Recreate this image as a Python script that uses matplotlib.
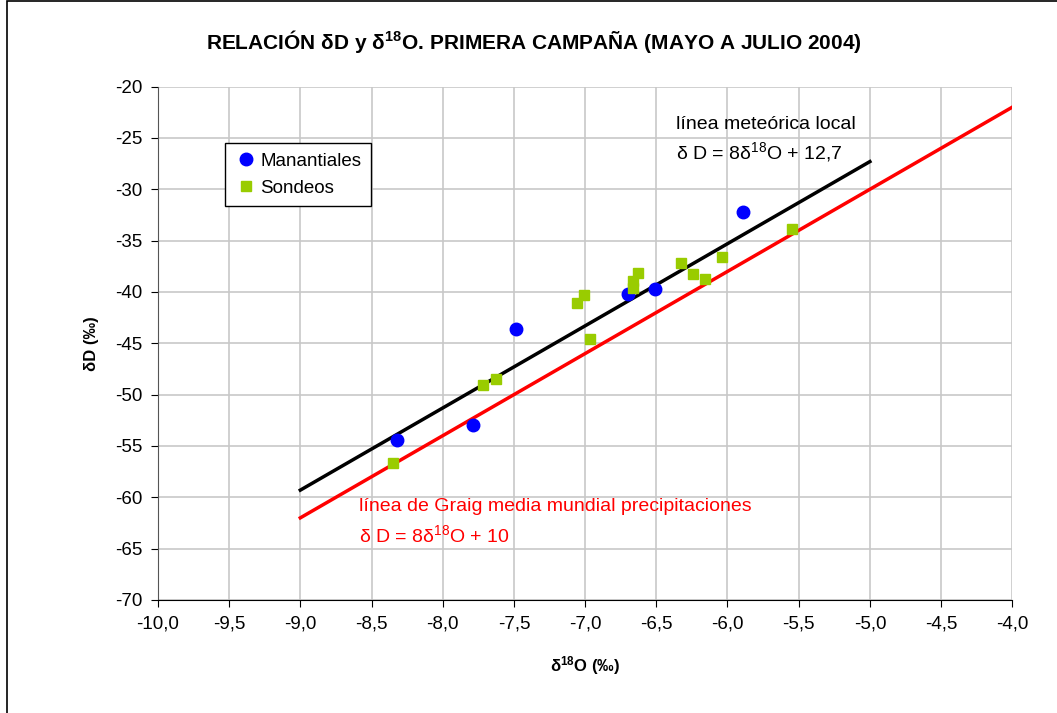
import numpy as np
import matplotlib
matplotlib.use("Agg")
import matplotlib.pyplot as plt
from matplotlib.ticker import FuncFormatter, MultipleLocator
from matplotlib.patches import Rectangle

plt.rcParams['font.family'] = ['Liberation Sans', 'DejaVu Sans']
plt.rcParams['mathtext.fontset'] = 'custom'
plt.rcParams['mathtext.rm'] = 'Liberation Sans'
plt.rcParams['mathtext.it'] = 'Liberation Sans:italic'
plt.rcParams['mathtext.bf'] = 'Liberation Sans:bold'

# manantiales (springs)
man_o18 = [-8.32, -7.79, -7.485, -6.70, -6.507, -5.89]
man_d = [-54.4, -53.0, -43.6, -40.2, -39.74, -32.24]

# sondeos (boreholes)
son_o18 = [-8.347, -7.72, -7.626, -7.059, -7.006, -6.966, -6.666, -6.666,
           -6.626, -6.327, -6.24, -6.156, -6.039, -5.549]
son_d = [-56.7, -49.06, -48.47, -41.1, -40.32, -44.6, -39.58, -38.93,
         -38.12, -37.21, -38.28, -38.7, -36.62, -33.84]

# line ranges
local_x = [-9.0, -5.0]
local_slope, local_icpt = 8.0, 12.7
craig_x = [-9.0, -4.0]
craig_slope, craig_icpt = 8.0, 10.0

fig = plt.figure(figsize=(10.57, 7.13), dpi=100)
ax = fig.add_axes([0.1494, 0.1585, 0.9577 - 0.1494, 0.8785 - 0.1585])

# figure border (top and left visible)
fig.patches.append(Rectangle((7 / 1057, -0.05), 1.2, 1.05 - 1.5 / 713,
                             transform=fig.transFigure, fill=False,
                             edgecolor='black', linewidth=1.2))

lx = np.array(local_x)
cx = np.array(craig_x)
ax.plot(lx, local_slope * lx + local_icpt, color='black', lw=2.5, zorder=3)
ax.plot(cx, craig_slope * cx + craig_icpt, color='#ff0000', lw=2.5, zorder=3)

ax.plot(man_o18, man_d, 'o', color='#0000ff', ms=9, mec='#0000ff',
        label='Manantiales', zorder=4)
ax.plot(son_o18, son_d, 's', color='#99cc00', ms=7, mec='#99cc00',
        label='Sondeos', zorder=5)

ax.set_xlim(-10, -4)
ax.set_ylim(-70, -20)
ax.xaxis.set_major_locator(MultipleLocator(0.5))
ax.yaxis.set_major_locator(MultipleLocator(5))
ax.xaxis.set_major_formatter(FuncFormatter(lambda v, p: f"{v:.1f}".replace('.', ',')))
ax.yaxis.set_major_formatter(FuncFormatter(lambda v, p: f"{v:.0f}"))
ax.grid(True, color='#c8c8c8', lw=1.2)
ax.set_axisbelow(True)
for s in ['top', 'right']:
    ax.spines[s].set_visible(False)
ax.spines['left'].set_color('#555555')
ax.spines['bottom'].set_color('black')
ax.tick_params(direction='out', length=5, labelsize=13.5, pad=6)

ax.set_title('RELACIÓN δD y δ$^{\\mathbf{18}}$O. PRIMERA CAMPAÑA (MAYO A JULIO 2004)',
             fontsize=15, fontweight='bold', pad=27, x=0.44)
ax.set_xlabel('δ$^{\\mathbf{18}}$O (‰)', fontsize=12, fontweight='bold', labelpad=16)
ax.set_ylabel('δD (‰)', fontsize=12, fontweight='bold', labelpad=12)

leg = ax.legend(loc='upper left', bbox_to_anchor=(0.078, 0.89), fontsize=13.5,
                frameon=True, fancybox=False, edgecolor='black', framealpha=1,
                handletextpad=0.1, borderpad=0.5, labelspacing=0.55,
                handlelength=1.3, borderaxespad=0)
leg.get_frame().set_linewidth(1.0)

ax.text(-6.36, -23.7, 'línea meteórica local', fontsize=14, color='black', va='center')
ax.text(-6.36, -26.4, 'δ D = 8δ$^{18}$O + 12,7', fontsize=14, color='black', va='center')
ax.text(-8.59, -60.9, 'línea de Graig media mundial precipitaciones', fontsize=14,
        color='#ff0000', va='center')
ax.text(-8.59, -63.7, 'δ D = 8δ$^{18}$O + 10', fontsize=14, color='#ff0000', va='center')

fig.savefig('out.png', dpi=100)
